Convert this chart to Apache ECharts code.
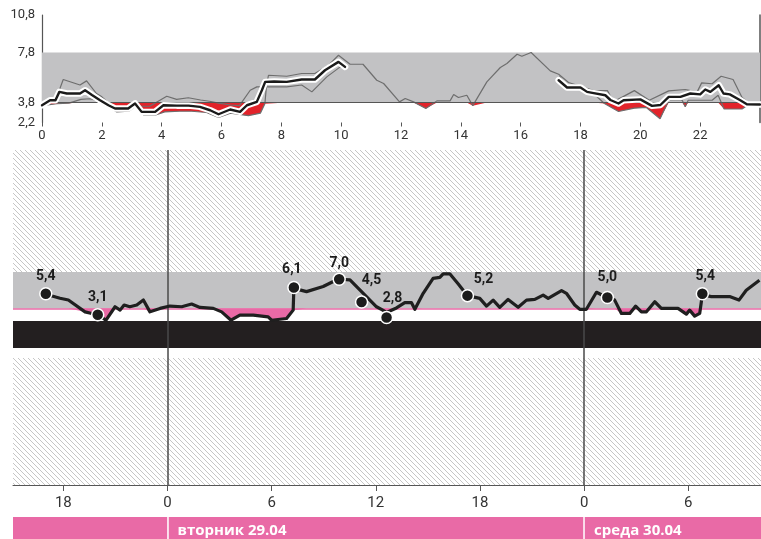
<!DOCTYPE html>
<html><head><meta charset="utf-8">
<script src="https://cdn.jsdelivr.net/npm/echarts@6/dist/echarts.min.js"></script>
<style>html,body{margin:0;padding:0;background:#fff}#c{width:761px;height:539px}</style>
</head><body><div id="c"></div>
<script>
// ---------- DATA ----------
const topXTicks = [0,2,4,6,8,10,12,14,16,18,20,22];
const topYTicks = [2.2,3.8,7.8,10.8];
const targetLow = 3.8, targetHigh = 7.8;

// thin grey line (full day)
const topGrayA = [[0,3.6],[0.3,3.95],[0.45,3.95],[0.71,5.64],[1.27,5.2],[1.49,5.53],[1.82,4.52],[2.0,4.25],[2.3,3.6],[2.5,3.1],[2.85,3.3],[3.05,3.85],[3.3,3.5],[3.6,3.5],[4.17,4.3],[4.5,4.05],[4.89,4.18],[5.3,4.0],[5.6,3.9],[5.9,3.75],[6.3,3.6],[6.6,3.55],[6.96,4.78],[7.18,5.05],[7.5,5.05],[7.57,5.98],[8.18,5.9],[8.68,6.12],[9.12,6.12],[9.58,6.78],[9.91,7.58],[10.3,6.86],[10.73,6.86],[11.19,5.58],[11.42,5.32],[11.95,3.85],[12.14,4.12],[12.42,3.85],[12.83,3.32],[13.2,3.93],[13.64,3.93],[13.76,4.44],[13.92,4.2],[14.2,4.38],[14.4,3.55],[14.87,5.45],[15.32,6.6],[15.54,6.92],[15.88,7.66],[16.04,7.5],[16.35,7.8],[16.99,6.33],[17.27,6.06],[17.6,5.4],[18.0,5.1],[18.44,4.75],[18.9,4.75],[19.1,3.85],[19.8,4.75],[20.3,3.98],[20.95,4.73],[21.5,4.84],[21.9,4.65],[22.05,5.37],[22.4,5.3],[22.7,5.9],[23.1,5.64],[23.4,4.2],[23.6,3.8],[24,3.64]];
// second thin grey line (two stretches)
const topGrayB1 = [[0,3.55],[0.5,3.7],[0.9,3.75],[1.3,4.05],[1.6,4.1],[1.9,3.95],[2.2,3.45],[2.5,3.05],[2.9,3.1],[3.1,3.45],[3.4,2.8],[3.8,2.8],[4.1,3.05],[4.6,3.1],[5.0,3.1],[5.5,3.0],[5.9,2.6],[6.3,2.95],[6.6,2.85],[6.9,2.75],[7.3,2.95],[7.45,3.7],[7.5,5.05],[8.18,5.05],[8.68,5.2],[9.02,4.65],[9.52,5.85],[9.97,6.65],[10.15,6.5]];
const topGrayB2 = [[17.3,5.9],[17.6,5.0],[18.0,4.95],[18.4,4.6],[18.8,3.72],[19.27,3.08],[19.8,3.35],[20.2,3.4],[20.66,2.5],[20.95,3.98],[21.4,3.98],[21.5,3.45],[21.6,3.98],[22.4,3.98],[22.6,4.38],[22.8,3.28],[23.4,3.28],[23.6,3.6]];
// bold black line (two stretches)
const topBlack1 = [[0,3.58],[0.27,3.98],[0.45,3.98],[0.58,4.65],[0.83,4.52],[1.27,4.52],[1.44,4.78],[1.67,4.4],[1.94,3.98],[2.22,3.58],[2.44,3.32],[2.88,3.32],[3.11,3.72],[3.33,3.05],[3.78,3.05],[4.06,3.58],[4.5,3.55],[4.9,3.55],[5.28,3.45],[5.62,3.18],[5.9,2.86],[6.29,3.24],[6.62,3.05],[6.85,3.58],[7.18,3.85],[7.35,4.78],[7.46,5.45],[7.76,5.48],[8.18,5.45],[8.68,5.64],[9.12,5.64],[9.46,6.38],[9.91,7.05],[10.13,6.65]];
const topBlack2 = [[17.27,5.58],[17.55,5.0],[18.0,5.0],[18.22,4.65],[18.44,4.55],[18.83,4.38],[19.0,4.0],[19.27,3.72],[19.44,3.98],[20.0,4.05],[20.39,3.53],[20.67,3.6],[20.95,4.25],[21.34,4.25],[21.67,4.52],[22.0,4.45],[22.17,4.84],[22.34,4.65],[22.62,5.18],[22.78,4.52],[22.99,4.45],[23.34,3.98],[23.56,3.66],[24,3.64]];

// lower chart: hours relative to Tuesday 00:00
const bottomTicks = [-6,0,6,12,18,24,30];
const dayStarts = [0,24];
const dayNames = ['вторник 29.04','среда 30.04'];
const bottomLine = [[-7.01,5.35],[-6.19,4.91],[-5.71,4.72],[-4.75,3.42],[-4.36,3.24],[-4.02,3.06],[-3.54,2.5],[-3.02,3.98],[-2.73,3.61],[-2.5,4.17],[-2.17,3.98],[-1.77,4.17],[-1.39,4.72],[-1.01,3.42],[-0.43,3.8],[0.14,4.06],[0.82,3.98],[1.39,4.28],[1.87,3.91],[2.64,3.8],[3.12,3.42],[3.66,2.5],[4.17,3.06],[4.94,3.06],[5.8,2.87],[6.0,2.5],[6.86,2.69],[7.24,3.61],[7.28,6.0],[8.01,5.64],[8.97,6.2],[9.55,6.76],[9.89,7.0],[10.51,6.94],[11.08,5.83],[12.04,3.98],[12.4,3.6],[12.62,3.35],[12.9,3.6],[13.19,3.85],[13.67,4.44],[14.05,4.44],[14.25,3.7],[14.73,5.46],[15.3,7.1],[15.69,7.2],[15.88,7.6],[16.26,7.6],[16.74,6.5],[17.28,5.2],[17.99,4.9],[18.38,4.05],[18.76,4.71],[19.14,3.92],[19.62,4.79],[20.2,3.92],[20.68,4.71],[21.16,4.79],[21.64,5.26],[21.93,4.9],[22.7,5.75],[22.98,5.46],[23.46,4.17],[23.75,3.7],[24.13,3.7],[24.71,5.57],[25.0,5.3],[25.34,5.0],[25.76,4.71],[26.15,3.25],[26.63,3.25],[26.97,4.05],[27.3,3.42],[27.59,3.42],[28.07,4.53],[28.45,3.8],[29.41,3.8],[29.89,3.17],[30.08,3.61],[30.37,2.95],[30.66,3.25],[30.81,5.3],[31.33,5.1],[32.38,5.1],[32.92,4.71],[33.34,5.8],[34.1,6.9]];
const dotHours  = [-7.01,-4.02,7.28,9.89,11.18,12.62,17.28,25.34,30.81];
const dotValues = [5.4,3.1,6.1,7.0,4.5,2.8,5.2,5.0,5.4];
const dotLabelShift = [[0,0],[0,0],[-2,0],[0,2],[10,-4],[6,-1],[16,2],[0,-2],[3,0]];

// ---------- STYLE ----------
const FONT = 'Roboto';
const GREY_BAND = '#c2c2c4', RED = '#e2232a', PINK = '#e96aa6', AX = '#555';
const X0 = -8.9, X1 = 34.19;

function hatch(){
  const p = 5, c = document.createElement('canvas');
  c.width = p; c.height = p;
  const g = c.getContext('2d');
  g.fillStyle = '#fff'; g.fillRect(0,0,p,p);
  g.strokeStyle = '#c6c6c6'; g.lineWidth = 1;
  g.beginPath();
  for (const o of [-p,0,p]) { g.moveTo(o,0); g.lineTo(o+p,p); }
  g.stroke();
  return {image: c, repeat: 'repeat'};
}
const hatchFill = hatch();
const clip = arr => arr.map(([h,v]) => [h, Math.min(v, targetLow)]);
const comma = v => v.toFixed(1).replace('.', ',');

const chart = echarts.init(document.getElementById('c'), null, {renderer:'canvas'});

const series = [];
// top chart base (band + 3.8 line)
series.push({type:'line', xAxisIndex:0, yAxisIndex:0, data:[], z:1,
  markArea:{silent:true, itemStyle:{color:GREY_BAND}, data:[[{xAxis:0,yAxis:targetLow},{xAxis:24,yAxis:targetHigh}]]},
  markLine:{silent:true, symbol:'none', label:{show:false}, lineStyle:{color:AX,width:1,type:'solid'}, data:[{yAxis:targetLow}]}
});
// red fills
[topGrayA, topGrayB1, topGrayB2].forEach(d => series.push({type:'line', xAxisIndex:0, yAxisIndex:0, z:3,
  data: clip(d), showSymbol:false, lineStyle:{width:0, opacity:0}, areaStyle:{color:RED, opacity:1, origin:targetLow}}));
// grey lines
[topGrayA, topGrayB1, topGrayB2].forEach(d => series.push({type:'line', xAxisIndex:0, yAxisIndex:0, z:4,
  data:d, showSymbol:false, lineStyle:{color:'#6e6e6e', width:1.2}}));
// black line with white halo
[topBlack1, topBlack2].forEach(d => {
  series.push({type:'line', xAxisIndex:0, yAxisIndex:0, z:5, data:d, showSymbol:false,
    lineStyle:{color:'#fff', width:6.5, join:'round', cap:'round'}});
  series.push({type:'line', xAxisIndex:0, yAxisIndex:0, z:6, data:d, showSymbol:false,
    lineStyle:{color:'#1a1a1a', width:2.4, join:'round', cap:'round'}});
});

// bottom chart base
series.push({type:'line', xAxisIndex:1, yAxisIndex:2, data:[], z:1,
  markArea:{silent:true, data:[
    [{xAxis:X0,yAxis:targetHigh,itemStyle:{color:hatchFill}},{xAxis:X1,yAxis:21.2}],
    [{xAxis:X0,yAxis:-15.6,itemStyle:{color:hatchFill}},{xAxis:X1,yAxis:-1.65}],
    [{xAxis:X0,yAxis:targetLow,itemStyle:{color:GREY_BAND}},{xAxis:X1,yAxis:targetHigh}],
    [{xAxis:X0,yAxis:-0.55,itemStyle:{color:'#231f20'}},{xAxis:X1,yAxis:2.42}]
  ]}
});
// pink fill below target
series.push({type:'line', xAxisIndex:1, yAxisIndex:2, z:3, data:clip(bottomLine), showSymbol:false,
  lineStyle:{width:0,opacity:0}, areaStyle:{color:PINK, opacity:1, origin:targetLow}});
// pink target line + day separators
series.push({type:'line', xAxisIndex:1, yAxisIndex:2, data:[], z:4,
  markLine:{silent:true, symbol:'none', label:{show:false}, data:[
    {yAxis:targetLow, lineStyle:{color:PINK,width:1.6,type:'solid'}},
    ...dayStarts.map(h => ({xAxis:h, lineStyle:{color:'#4a4a4a',width:1.5,type:'solid'}}))
  ]}
});
// CGM line
series.push({type:'line', xAxisIndex:1, yAxisIndex:2, z:6, data:bottomLine, showSymbol:false,
  lineStyle:{color:'#1f1f1f', width:3.2, join:'round'}});
// manual measurements
series.push({type:'scatter', xAxisIndex:1, yAxisIndex:2, z:8, symbolSize:12,
  itemStyle:{color:'#1c1c1c', borderColor:'#fff', borderWidth:1.5, opacity:1},
  data: dotHours.map((h,i) => ({value:[h, dotValues[i]],
    label:{show:true, position:'top', distance:4, offset:dotLabelShift[i], formatter:comma(dotValues[i]),
      color:'#1c1c1c', opacity:1, fontFamily:FONT, fontWeight:'bold', fontSize:14}}))
});

// day bar
series.push({type:'line', xAxisIndex:2, yAxisIndex:3, data:[], z:2,
  markArea:{silent:true, itemStyle:{color:PINK}, data:[
    [{xAxis:X0,yAxis:0},{xAxis:dayStarts[0],yAxis:1}],
    ...dayStarts.map((h,i) => [{xAxis:h,yAxis:0,name:dayNames[i],
       label:{show:true, position:'insideLeft', offset:[5,3], color:'#fff', fontFamily:'Open Sans', fontWeight:'bold', fontSize:15}},
       {xAxis: i+1<dayStarts.length ? dayStarts[i+1] : X1, yAxis:1}])
  ]},
  markLine:{silent:true, symbol:'none', label:{show:false}, lineStyle:{color:'#fff',width:1.5,type:'solid'},
    data: dayStarts.map(h => ({xAxis:h}))}
});

chart.setOption({
  animation:false,
  backgroundColor:'#fff',
  textStyle:{fontFamily:FONT},
  grid:[
    {left:42, right:1, top:15, height:107.5},
    {left:13, right:0, top:150, height:335},
    {left:13, right:0, top:517, height:22}
  ],
  xAxis:[
    {type:'value', gridIndex:0, min:0, max:24,
      axisLine:{show:false}, splitLine:{show:false},
      axisTick:{show:true, customValues:topXTicks, length:4, lineStyle:{color:AX}},
      axisLabel:{customValues:topXTicks, margin:7, color:'#333', fontSize:13, fontFamily:FONT}},
    {type:'value', gridIndex:1, min:X0, max:X1,
      axisLine:{show:true, onZero:false, lineStyle:{color:AX, width:1}}, splitLine:{show:false},
      axisTick:{show:true, customValues:bottomTicks, length:6, lineStyle:{color:AX}},
      axisLabel:{customValues:bottomTicks, margin:11, color:'#333', fontSize:15, fontFamily:FONT,
        formatter: v => String(((v % 24) + 24) % 24)}},
    {type:'value', gridIndex:2, min:X0, max:X1, show:false}
  ],
  yAxis:[
    {type:'value', gridIndex:0, min:2.2, max:10.8, splitLine:{show:false},
      axisLine:{show:true, lineStyle:{color:AX, width:1.2}}, axisTick:{show:false},
      axisLabel:{customValues:topYTicks, margin:7, color:'#333', fontSize:13, fontFamily:FONT, formatter: v => v.toFixed(1).replace('.', ',')}},
    {type:'value', gridIndex:0, position:'right', min:2.2, max:10.8, splitLine:{show:false},
      axisLine:{show:true, lineStyle:{color:AX, width:1.5}}, axisTick:{show:false}, axisLabel:{show:false}},
    {type:'value', gridIndex:1, min:-15.6, max:21.2, show:false},
    {type:'value', gridIndex:2, min:0, max:1, show:false}
  ],
  series: series
});
</script></body></html>
